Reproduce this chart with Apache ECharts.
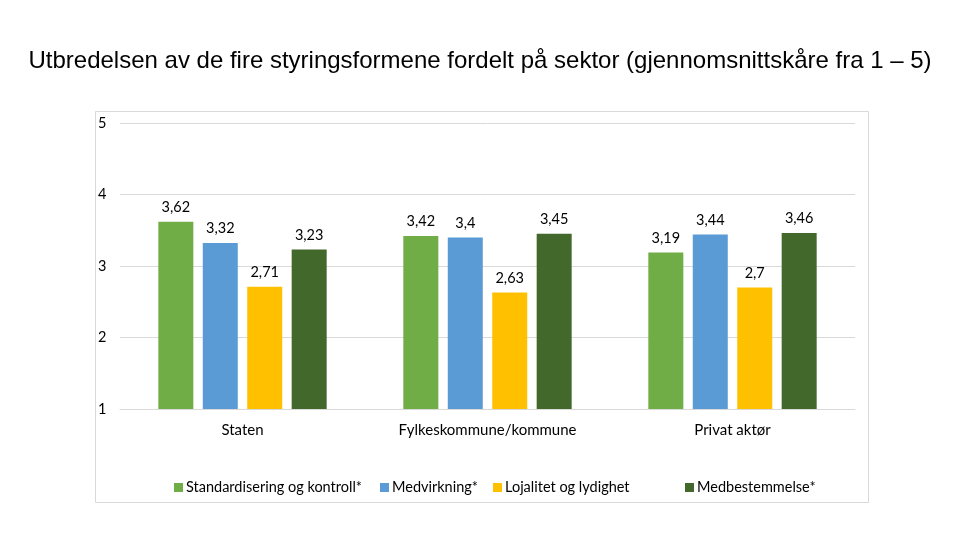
<!DOCTYPE html>
<html><head><meta charset="utf-8">
<script src="https://cdn.jsdelivr.net/npm/echarts@6/dist/echarts.min.js"></script>
<style>html,body{margin:0;padding:0;background:#fff}#c{width:960px;height:540px}</style>
</head><body><div id="c"></div>
<script>
const categories = ['Staten', 'Fylkeskommune/kommune', 'Privat aktør'];
const seriesNames = ['Standardisering og kontroll*', 'Medvirkning*', 'Lojalitet og lydighet', 'Medbestemmelse*'];
const standardisering = [3.62, 3.42, 3.19];
const medvirkning = [3.32, 3.4, 3.44];
const lojalitet = [2.71, 2.63, 2.7];
const medbestemmelse = [3.23, 3.45, 3.46];
const yTicks = [1, 2, 3, 4, 5];
const colors = ['#70ad47', '#5b9bd5', '#ffc000', '#43682b'];
const values = [standardisering, medvirkning, lojalitet, medbestemmelse];
const legendLeft = [169, 375, 488, 680];
const font = 'Lato, "Open Sans", sans-serif';

const chart = echarts.init(document.getElementById('c'));
chart.setOption({
  animation: false,
  title: {
    text: 'Utbredelsen av de fire styringsformene fordelt på sektor (gjennomsnittskåre fra 1 – 5)',
    left: 'center', top: 44,
    textStyle: {fontFamily: '"Liberation Sans", Arial, sans-serif', fontSize: 24, fontWeight: 'normal', color: '#000'}
  },
  graphic: [{
    type: 'rect', shape: {x: 95.5, y: 111.5, width: 773, height: 391},
    style: {fill: 'none', stroke: '#d9d9d9', lineWidth: 1}, z: -1
  }],
  legend: seriesNames.map((n, i) => ({
    data: [n], left: legendLeft[i], top: 475, icon: 'rect', itemWidth: 9, itemHeight: 9, itemGap: 0,
    textStyle: {fontFamily: font, fontSize: 14.5, color: '#000', padding: [0, 0, 0, -2]}
  })),
  grid: {left: 120, right: 105, top: 123, bottom: 131},
  xAxis: {
    type: 'category', data: categories,
    axisLine: {lineStyle: {color: '#d9d9d9'}}, axisTick: {show: false},
    axisLabel: {fontFamily: font, fontSize: 15, color: '#000', margin: 14}
  },
  yAxis: {
    type: 'value', min: yTicks[0], max: yTicks[yTicks.length - 1], interval: 1,
    axisLine: {show: false}, axisTick: {show: false},
    splitLine: {lineStyle: {color: '#d9d9d9'}},
    axisLabel: {fontFamily: font, fontSize: 14.5, color: '#000', margin: 22, align: 'left'},
  },
  series: seriesNames.map((n, i) => ({
    name: n, type: 'bar', data: values[i], barWidth: 35, barGap: '27%',
    itemStyle: {color: colors[i]},
    label: {show: true, position: 'top', distance: 7, fontFamily: font, fontSize: 14.5, color: '#000',
      formatter: p => String(p.value).replace('.', ',')}
  }))
});
</script></body></html>
